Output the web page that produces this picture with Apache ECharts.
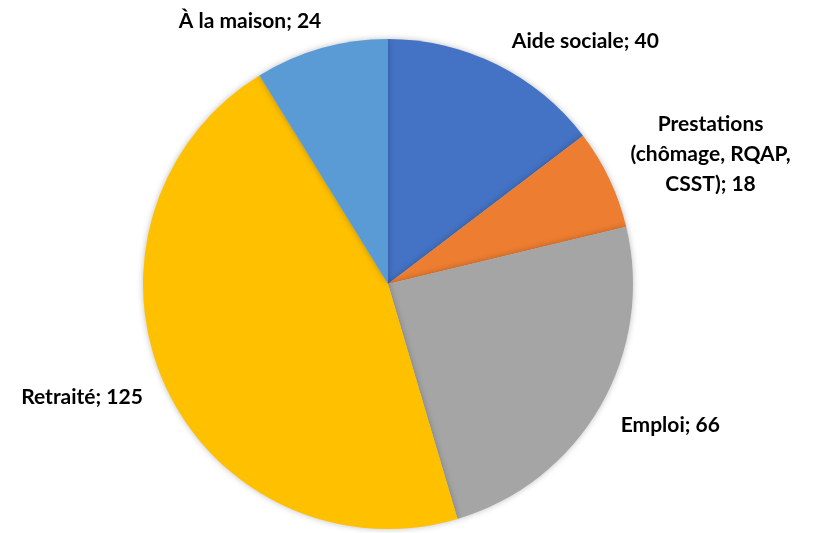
<!DOCTYPE html>
<html><head><meta charset="utf-8">
<script src="https://cdn.jsdelivr.net/npm/echarts@6/dist/echarts.min.js"></script>
<style>html,body{margin:0;padding:0;background:#fff}#c{width:820px;height:533px}</style>
</head><body><div id="c"></div>
<script>
const categories = ["Aide sociale", "Prestations\n(chômage, RQAP,\nCSST)", "Emploi", "Retraité", "À la maison"];
const values = [40, 18, 66, 125, 24];
const colors = ["#4472C4", "#ED7D31", "#A5A5A5", "#FFC000", "#5B9BD5"];

// label nudges (style only), per slice index
const labelNudge = [
  { dx: 2, dy: -7 },
  { dx: 0, dy: -17, center: true },
  { dx: 0, dy: 10 },
  { dx: 0, dy: 6 },
  { dx: 10, dy: -10 }
];

const chart = echarts.init(document.getElementById('c'));
chart.setOption({
  animation: false,
  backgroundColor: '#ffffff',
  series: [{
    type: 'pie',
    center: [388, 284],
    radius: 245,
    startAngle: 90,
    clockwise: true,
    data: categories.map((n, i) => ({ name: n, value: values[i], itemStyle: { color: colors[i] } })),
    itemStyle: { shadowBlur: 6, shadowColor: 'rgba(0,0,0,0.25)', borderWidth: 0 },
    label: {
      show: true,
      position: 'outside',
      formatter: p => p.name + '; ' + p.value,
      color: '#000',
      fontFamily: 'Lato, "Open Sans", sans-serif',
      fontWeight: 'bold',
      fontSize: 21,
      lineHeight: 30
    },
    labelLine: { show: false, length: 18, length2: 0 },
    labelLayout: function (p) {
      const n = labelNudge[p.dataIndex];
      const o = { dx: n.dx, dy: n.dy };
      if (n.center) { o.align = 'center'; o.dx = n.dx + p.labelRect.width / 2; }
      return o;
    },
    avoidLabelOverlap: false
  }]
});
</script></body></html>
